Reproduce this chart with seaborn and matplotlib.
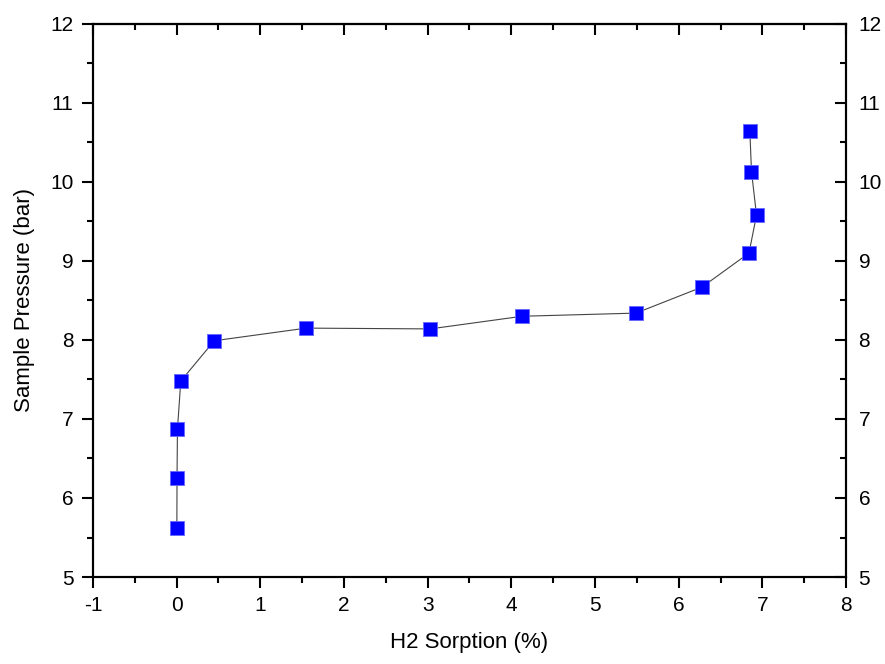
import numpy as np
import pandas as pd
import matplotlib.pyplot as plt
import seaborn as sns
from matplotlib.ticker import MultipleLocator, NullFormatter

sorption = [0.003, 0.005, 0.01, 0.05, 0.45, 1.55, 3.03, 4.13, 5.49, 6.28, 6.84, 6.93, 6.87, 6.85]
pressure = [5.62, 6.25, 6.87, 7.48, 7.99, 8.15, 8.14, 8.30, 8.34, 8.67, 9.10, 9.58, 10.13, 10.65]

df = pd.DataFrame({"H2 Sorption (%)": sorption, "Sample Pressure (bar)": pressure})

sns.set_style("ticks")
plt.rcParams['font.family'] = ['Liberation Sans', 'DejaVu Sans']
plt.rcParams['axes.unicode_minus'] = False
plt.rcParams['text.color'] = 'black'
plt.rcParams['axes.labelcolor'] = 'black'

fig = plt.figure(figsize=(8.85, 6.64), dpi=100)
ax = fig.add_axes([0.105, 0.131, 0.851, 0.833])

sns.lineplot(data=df, x="H2 Sorption (%)", y="Sample Pressure (bar)", sort=False,
             estimator=None, color="#444444", linewidth=0.8, ax=ax)
sns.scatterplot(data=df, x="H2 Sorption (%)", y="Sample Pressure (bar)", marker="s",
                s=100, color="#0000ff", edgecolor="#6666ff", linewidth=0.6, ax=ax, zorder=3)

ax.set_xlim(-1, 8)
ax.set_ylim(5, 12)
ax.xaxis.set_major_locator(MultipleLocator(1))
ax.xaxis.set_minor_locator(MultipleLocator(0.5))
ax.yaxis.set_major_locator(MultipleLocator(1))
ax.yaxis.set_minor_locator(MultipleLocator(0.5))
ax.tick_params(which="major", direction="out", length=8, width=1.5, labelsize=15,
               colors="black", pad=6)
ax.tick_params(which="minor", direction="out", length=4, width=1.5, colors="black")
ax.set_xlabel("H2 Sorption (%)", fontsize=16, labelpad=12)
ax.set_ylabel("Sample Pressure (bar)", fontsize=16, labelpad=11)
for sp in ax.spines.values():
    sp.set_linewidth(1.5)
    sp.set_color("black")

# right axis: inward ticks with labels
ax2 = ax.twinx()
ax2.set_ylim(5, 12)
ax2.yaxis.set_major_locator(MultipleLocator(1))
ax2.yaxis.set_minor_locator(MultipleLocator(0.5))
ax2.tick_params(which="major", direction="in", length=8, width=1.5, labelsize=15,
                colors="black", pad=9)
ax2.tick_params(which="minor", direction="in", length=4, width=1.5, colors="black")
for sp in ax2.spines.values():
    sp.set_linewidth(1.5)
    sp.set_color("black")

# top axis: inward ticks, no labels
top = ax.secondary_xaxis("top")
top.xaxis.set_major_locator(MultipleLocator(1))
top.xaxis.set_minor_locator(MultipleLocator(0.5))
top.xaxis.set_major_formatter(NullFormatter())
top.tick_params(which="major", direction="in", length=8, width=1.5, colors="black")
top.tick_params(which="minor", direction="in", length=4, width=1.5, colors="black")
top.spines["top"].set_linewidth(1.5)

fig.savefig("out.png", dpi=100)
